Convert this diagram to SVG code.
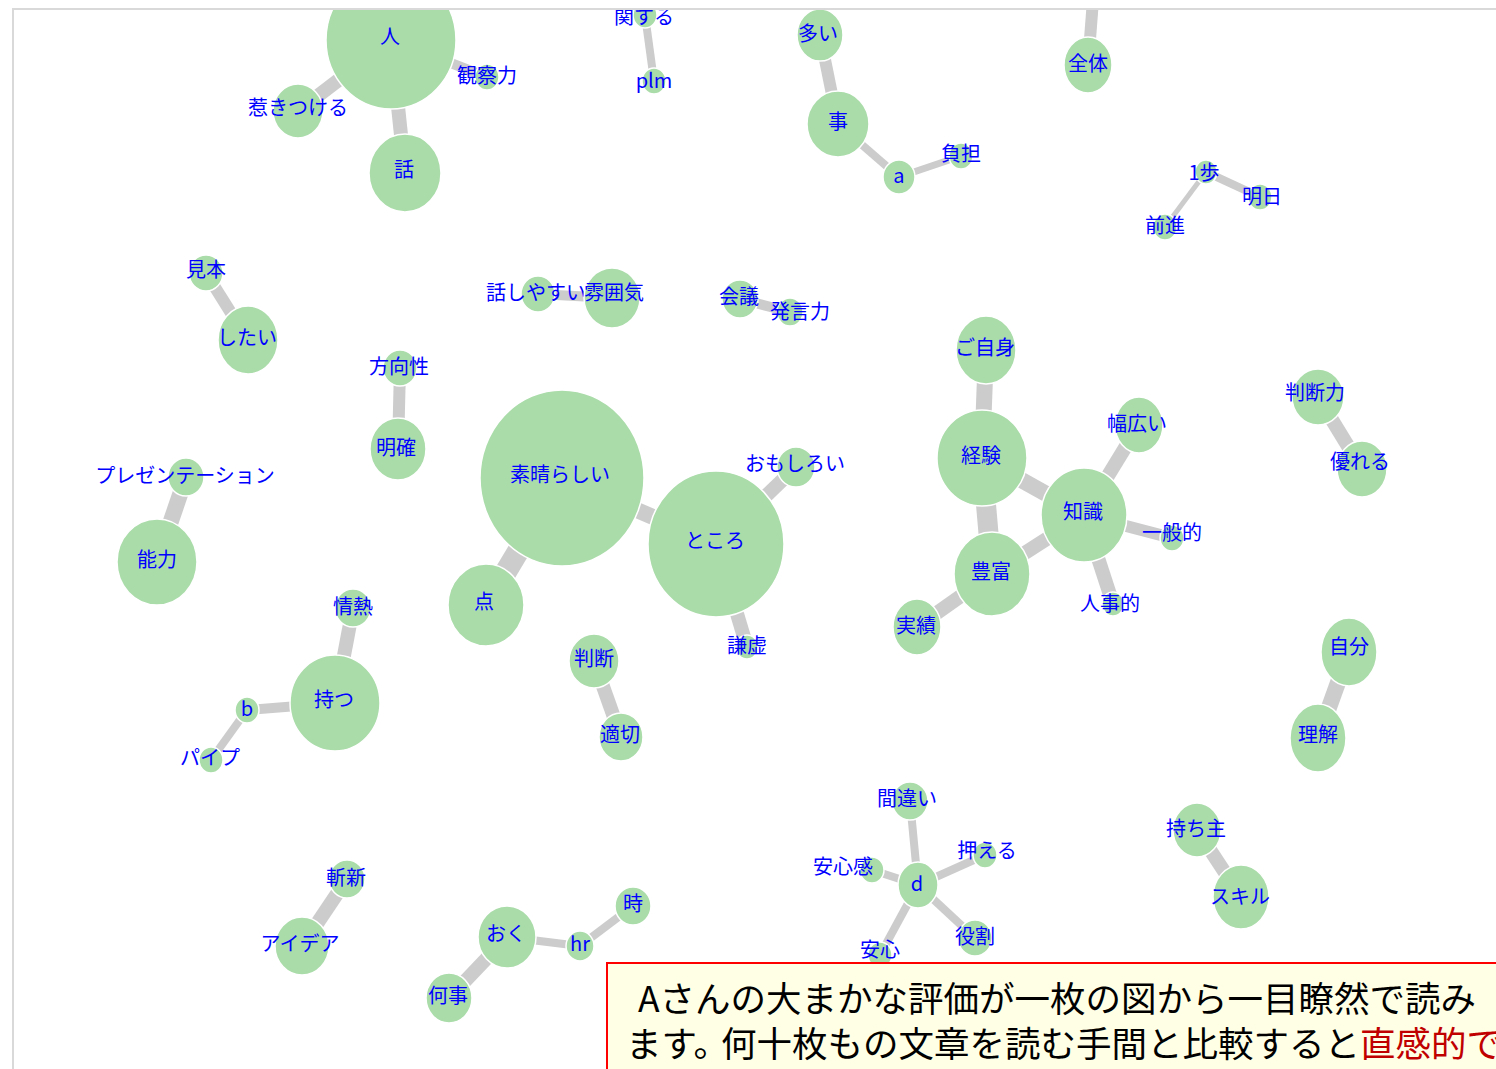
<svg xmlns="http://www.w3.org/2000/svg" width="1496" height="1069" viewBox="0 0 1496 1069">
<style>
.n{fill:#aadcaa;stroke:#ffffff;stroke-width:1.5}
.l{font-family:"Noto Sans CJK JP","Noto Sans",sans-serif;font-size:20px;fill:#0000ff;text-anchor:middle}
.e line{stroke:#cccccc;stroke-linecap:butt}
.note{font-family:"Noto Sans CJK JP","Noto Sans",sans-serif;font-size:35.5px;fill:#000000}
</style>
<defs>
<clipPath id="area"><rect x="14" y="10" width="1482" height="1059"/></clipPath>
</defs>
<rect x="0" y="0" width="1496" height="1069" fill="#ffffff"/>
<path d="M13,1069 V9 H1496" fill="none" stroke="#d9d9d9" stroke-width="2"/>
<g clip-path="url(#area)">
<g id="connectors" class="e">
<line x1="391" y1="40" x2="298" y2="111" stroke-width="14"/>
<line x1="391" y1="40" x2="487" y2="77" stroke-width="10"/>
<line x1="391" y1="40" x2="405" y2="173" stroke-width="14"/>
<line x1="645" y1="15" x2="654" y2="81" stroke-width="8"/>
<line x1="820" y1="35" x2="838" y2="124" stroke-width="12"/>
<line x1="838" y1="124" x2="899" y2="177" stroke-width="8"/>
<line x1="899" y1="177" x2="961" y2="156" stroke-width="7"/>
<line x1="1093" y1="0" x2="1088" y2="65" stroke-width="12"/>
<line x1="1206" y1="172" x2="1260" y2="197" stroke-width="8"/>
<line x1="1206" y1="172" x2="1165" y2="227" stroke-width="5"/>
<line x1="206" y1="273" x2="248" y2="340" stroke-width="12"/>
<line x1="538" y1="294" x2="612" y2="298" stroke-width="10"/>
<line x1="740" y1="299" x2="790" y2="312" stroke-width="10"/>
<line x1="400" y1="368" x2="398" y2="449" stroke-width="12"/>
<line x1="186" y1="477" x2="157" y2="562" stroke-width="16"/>
<line x1="562" y1="478" x2="716" y2="544" stroke-width="16"/>
<line x1="562" y1="478" x2="486" y2="605" stroke-width="22"/>
<line x1="716" y1="544" x2="796" y2="467" stroke-width="14"/>
<line x1="716" y1="544" x2="747" y2="647" stroke-width="14"/>
<line x1="594" y1="661" x2="621" y2="737" stroke-width="14"/>
<line x1="353" y1="608" x2="335" y2="703" stroke-width="14"/>
<line x1="335" y1="703" x2="247" y2="710" stroke-width="10"/>
<line x1="247" y1="710" x2="211" y2="760" stroke-width="8"/>
<line x1="986" y1="350" x2="982" y2="458" stroke-width="16"/>
<line x1="982" y1="458" x2="1084" y2="515" stroke-width="16"/>
<line x1="982" y1="458" x2="992" y2="574" stroke-width="20"/>
<line x1="1084" y1="515" x2="992" y2="574" stroke-width="14"/>
<line x1="1084" y1="515" x2="1139" y2="425" stroke-width="14"/>
<line x1="1084" y1="515" x2="1172" y2="538" stroke-width="12"/>
<line x1="1084" y1="515" x2="1113" y2="604" stroke-width="14"/>
<line x1="992" y1="574" x2="917" y2="627" stroke-width="14"/>
<line x1="1318" y1="397" x2="1362" y2="469" stroke-width="14"/>
<line x1="1349" y1="652" x2="1318" y2="738" stroke-width="16"/>
<line x1="910" y1="801" x2="918" y2="885" stroke-width="8"/>
<line x1="918" y1="885" x2="985" y2="855" stroke-width="8"/>
<line x1="918" y1="885" x2="872" y2="870" stroke-width="8"/>
<line x1="918" y1="885" x2="880" y2="955" stroke-width="8"/>
<line x1="918" y1="885" x2="975" y2="938" stroke-width="8"/>
<line x1="1197" y1="830" x2="1241" y2="897" stroke-width="14"/>
<line x1="347" y1="879" x2="302" y2="946" stroke-width="14"/>
<line x1="507" y1="937" x2="580" y2="946" stroke-width="8"/>
<line x1="580" y1="946" x2="633" y2="906" stroke-width="8"/>
<line x1="507" y1="937" x2="449" y2="998" stroke-width="14"/>
</g>
<g id="n-top-cut"><ellipse class="n" cx="1093" cy="-4" rx="12" ry="13"/></g>
<g id="n-hito"><ellipse class="n" cx="391" cy="40" rx="65" ry="69"/><text class="l" x="390" y="44">人</text></g>
<g id="n-hikitsukeru"><ellipse class="n" cx="298" cy="111" rx="25" ry="27"/><text class="l" x="298" y="115">惹きつける</text></g>
<g id="n-kansatsuryoku"><ellipse class="n" cx="487" cy="77" rx="12" ry="13"/><text class="l" x="487" y="83">観察力</text></g>
<g id="n-hanashi"><ellipse class="n" cx="405" cy="173" rx="36" ry="39"/><text class="l" x="404" y="177">話</text></g>
<g id="n-kansuru"><ellipse class="n" cx="645" cy="15" rx="12" ry="13"/><text class="l" x="644" y="24">関する</text></g>
<g id="n-plm"><ellipse class="n" cx="654" cy="81" rx="12" ry="13"/><text class="l" x="654" y="88">plm</text></g>
<g id="n-ooi"><ellipse class="n" cx="820" cy="35" rx="23" ry="26"/><text class="l" x="818" y="41">多い</text></g>
<g id="n-koto"><ellipse class="n" cx="838" cy="124" rx="31" ry="33"/><text class="l" x="838" y="129">事</text></g>
<g id="n-a"><ellipse class="n" cx="899" cy="177" rx="16" ry="17"/><text class="l" x="899" y="183">a</text></g>
<g id="n-futan"><ellipse class="n" cx="961" cy="156" rx="12" ry="13"/><text class="l" x="961" y="161">負担</text></g>
<g id="n-zentai"><ellipse class="n" cx="1088" cy="65" rx="24" ry="28"/><text class="l" x="1088" y="71">全体</text></g>
<g id="n-ippo"><ellipse class="n" cx="1206" cy="172" rx="11" ry="12"/><text class="l" x="1204" y="180">1歩</text></g>
<g id="n-ashita"><ellipse class="n" cx="1260" cy="197" rx="12" ry="13"/><text class="l" x="1262" y="204">明日</text></g>
<g id="n-zenshin"><ellipse class="n" cx="1165" cy="227" rx="12" ry="13"/><text class="l" x="1165" y="233">前進</text></g>
<g id="n-mihon"><ellipse class="n" cx="206" cy="273" rx="17" ry="18"/><text class="l" x="206" y="277">見本</text></g>
<g id="n-shitai"><ellipse class="n" cx="248" cy="340" rx="30" ry="34"/><text class="l" x="247" y="345">したい</text></g>
<g id="n-hanashiyasui"><ellipse class="n" cx="538" cy="294" rx="17" ry="18"/><text class="l" x="536" y="300">話しやすい</text></g>
<g id="n-funiki"><ellipse class="n" cx="612" cy="298" rx="28" ry="30"/><text class="l" x="614" y="300">雰囲気</text></g>
<g id="n-kaigi"><ellipse class="n" cx="740" cy="299" rx="18" ry="19"/><text class="l" x="739" y="304">会議</text></g>
<g id="n-hatsugenryoku"><ellipse class="n" cx="790" cy="312" rx="13" ry="14"/><text class="l" x="800" y="319">発言力</text></g>
<g id="n-houkousei"><ellipse class="n" cx="400" cy="368" rx="17" ry="18"/><text class="l" x="399" y="374">方向性</text></g>
<g id="n-meikaku"><ellipse class="n" cx="398" cy="449" rx="28" ry="31"/><text class="l" x="396" y="455">明確</text></g>
<g id="n-presentation"><ellipse class="n" cx="186" cy="477" rx="18" ry="19"/><text class="l" x="185" y="483">プレゼンテーション</text></g>
<g id="n-nouryoku"><ellipse class="n" cx="157" cy="562" rx="40" ry="43"/><text class="l" x="157" y="567">能力</text></g>
<g id="n-subarashii"><ellipse class="n" cx="562" cy="478" rx="82" ry="88"/><text class="l" x="560" y="482">素晴らしい</text></g>
<g id="n-tokoro"><ellipse class="n" cx="716" cy="544" rx="68" ry="73"/><text class="l" x="715" y="548">ところ</text></g>
<g id="n-ten"><ellipse class="n" cx="486" cy="605" rx="38" ry="41"/><text class="l" x="484" y="609">点</text></g>
<g id="n-omoshiroi"><ellipse class="n" cx="796" cy="467" rx="19" ry="20"/><text class="l" x="795" y="471">おもしろい</text></g>
<g id="n-kenkyo"><ellipse class="n" cx="747" cy="647" rx="11" ry="12"/><text class="l" x="747" y="653">謙虚</text></g>
<g id="n-handan"><ellipse class="n" cx="594" cy="661" rx="25" ry="27"/><text class="l" x="594" y="666">判断</text></g>
<g id="n-tekisetsu"><ellipse class="n" cx="621" cy="737" rx="22" ry="24"/><text class="l" x="620" y="742">適切</text></g>
<g id="n-jounetsu"><ellipse class="n" cx="353" cy="608" rx="18" ry="19"/><text class="l" x="353" y="614">情熱</text></g>
<g id="n-motsu"><ellipse class="n" cx="335" cy="703" rx="45" ry="48"/><text class="l" x="334" y="707">持つ</text></g>
<g id="n-b"><ellipse class="n" cx="247" cy="710" rx="12" ry="13"/><text class="l" x="247" y="716">b</text></g>
<g id="n-paipu"><ellipse class="n" cx="211" cy="760" rx="12" ry="13"/><text class="l" x="210" y="765">パイプ</text></g>
<g id="n-gojishin"><ellipse class="n" cx="986" cy="350" rx="30" ry="34"/><text class="l" x="985" y="355">ご自身</text></g>
<g id="n-keiken"><ellipse class="n" cx="982" cy="458" rx="45" ry="48"/><text class="l" x="981" y="463">経験</text></g>
<g id="n-chishiki"><ellipse class="n" cx="1084" cy="515" rx="43" ry="47"/><text class="l" x="1083" y="519">知識</text></g>
<g id="n-houfu"><ellipse class="n" cx="992" cy="574" rx="38" ry="42"/><text class="l" x="991" y="579">豊富</text></g>
<g id="n-habahiroi"><ellipse class="n" cx="1139" cy="425" rx="24" ry="28"/><text class="l" x="1137" y="431">幅広い</text></g>
<g id="n-ippanteki"><ellipse class="n" cx="1172" cy="538" rx="12" ry="13"/><text class="l" x="1172" y="540">一般的</text></g>
<g id="n-jinjiteki"><ellipse class="n" cx="1113" cy="604" rx="11" ry="12"/><text class="l" x="1110" y="611">人事的</text></g>
<g id="n-jisseki"><ellipse class="n" cx="917" cy="627" rx="24" ry="28"/><text class="l" x="916" y="633">実績</text></g>
<g id="n-handanryoku"><ellipse class="n" cx="1318" cy="397" rx="26" ry="28"/><text class="l" x="1315" y="400">判断力</text></g>
<g id="n-sugureru"><ellipse class="n" cx="1362" cy="469" rx="25" ry="28"/><text class="l" x="1360" y="469">優れる</text></g>
<g id="n-jibun"><ellipse class="n" cx="1349" cy="652" rx="28" ry="34"/><text class="l" x="1349" y="654">自分</text></g>
<g id="n-rikai"><ellipse class="n" cx="1318" cy="738" rx="28" ry="34"/><text class="l" x="1318" y="742">理解</text></g>
<g id="n-machigai"><ellipse class="n" cx="910" cy="801" rx="18" ry="19"/><text class="l" x="907" y="806">間違い</text></g>
<g id="n-d"><ellipse class="n" cx="918" cy="885" rx="20" ry="23"/><text class="l" x="917" y="891">d</text></g>
<g id="n-osaeru"><ellipse class="n" cx="985" cy="855" rx="12" ry="13"/><text class="l" x="987" y="858">押える</text></g>
<g id="n-anshinkan"><ellipse class="n" cx="872" cy="870" rx="12" ry="13"/><text class="l" x="843" y="874">安心感</text></g>
<g id="n-anshin"><ellipse class="n" cx="880" cy="955" rx="12" ry="13"/><text class="l" x="880" y="957">安心</text></g>
<g id="n-yakuwari"><ellipse class="n" cx="975" cy="938" rx="17" ry="18"/><text class="l" x="975" y="944">役割</text></g>
<g id="n-mochinushi"><ellipse class="n" cx="1197" cy="830" rx="24" ry="27"/><text class="l" x="1196" y="836">持ち主</text></g>
<g id="n-skill"><ellipse class="n" cx="1241" cy="897" rx="28" ry="32"/><text class="l" x="1240" y="904">スキル</text></g>
<g id="n-zanshin"><ellipse class="n" cx="347" cy="879" rx="18" ry="19"/><text class="l" x="346" y="885">斬新</text></g>
<g id="n-idea"><ellipse class="n" cx="302" cy="946" rx="27" ry="29"/><text class="l" x="300" y="951">アイデア</text></g>
<g id="n-oku"><ellipse class="n" cx="507" cy="937" rx="29" ry="31"/><text class="l" x="506" y="941">おく</text></g>
<g id="n-hr"><ellipse class="n" cx="580" cy="946" rx="14" ry="15"/><text class="l" x="580" y="951">hr</text></g>
<g id="n-toki"><ellipse class="n" cx="633" cy="906" rx="18" ry="19"/><text class="l" x="633" y="911">時</text></g>
<g id="n-nanigoto"><ellipse class="n" cx="449" cy="998" rx="23" ry="25"/><text class="l" x="448" y="1003">何事</text></g>
</g>
<g id="note">
<rect x="607" y="963" width="1000" height="120" fill="#ffffe6" stroke="#ff0000" stroke-width="2"/>
<text class="note" x="638" y="1012">Aさんの大まかな評価が一枚の図から一目瞭然で読み</text>
<text class="note" x="626" y="1057">ます。<tspan dx="-8">何十枚もの文章を読む手間と比較すると</tspan><tspan fill="#c00000">直感的で</tspan></text>
</g>
</svg>
